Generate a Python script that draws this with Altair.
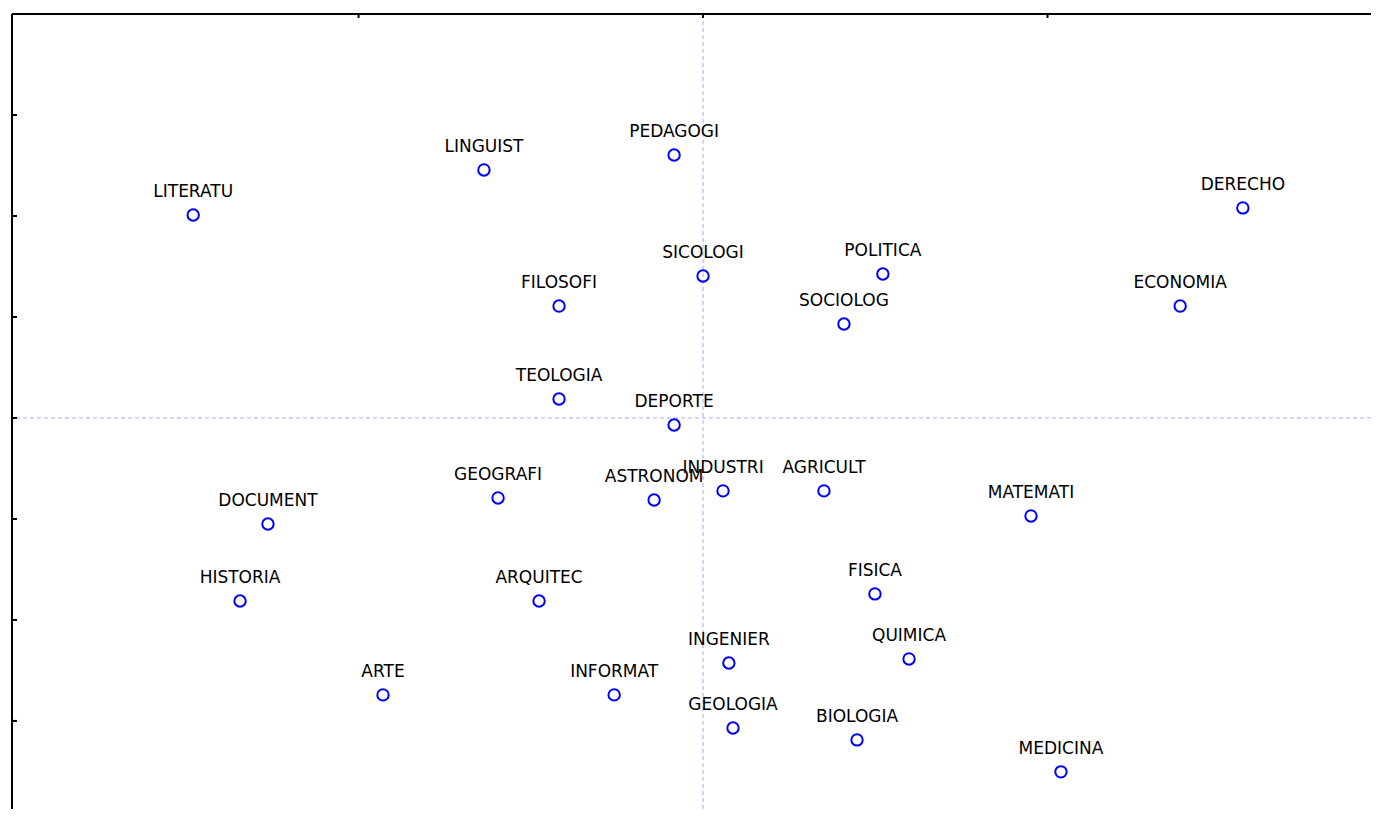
import altair as alt
import pandas as pd

labels = ["LITERATU", "LINGUIST", "PEDAGOGI", "DERECHO", "SICOLOGI", "POLITICA",
          "FILOSOFI", "SOCIOLOG", "ECONOMIA", "TEOLOGIA", "DEPORTE", "GEOGRAFI",
          "ASTRONOM", "INDUSTRI", "AGRICULT", "MATEMATI", "DOCUMENT", "HISTORIA",
          "ARQUITEC", "FISICA", "QUIMICA", "INGENIER", "ARTE", "INFORMAT",
          "GEOLOGIA", "BIOLOGIA", "MEDICINA"]
dim1 = [-1.480, -0.636, -0.084, 1.567, 0.000, 0.522,
        -0.418, 0.409, 1.385, -0.418, -0.084, -0.595,
        -0.142, 0.058, 0.351, 0.952, -1.263, -1.344,
        -0.476, 0.499, 0.598, 0.075, -0.929, -0.258,
        0.087, 0.447, 1.039]
dim2 = [1.005, 1.228, 1.302, 1.040, 0.703, 0.713,
        0.554, 0.465, 0.554, 0.094, -0.035, -0.396,
        -0.406, -0.361, -0.361, -0.485, -0.525, -0.906,
        -0.906, -0.871, -1.193, -1.213, -1.371, -1.371,
        -1.535, -1.594, -1.752]

x_ticks = [-1.0, 0.0, 1.0]
y_ticks = [-1.5, -1.0, -0.5, 0.0, 0.5, 1.0, 1.5]
x_domain = [-2.006, 1.939]
y_domain = [-1.936, 2.0]

W, H = 1359, 795

df = pd.DataFrame({"label": labels, "d1": dim1, "d2": dim2})
xt = pd.DataFrame({"v": x_ticks})
yt = pd.DataFrame({"v": y_ticks})
zero = pd.DataFrame({"v": [0.0]})

xs = alt.Scale(domain=x_domain, zero=False, nice=False)
ys = alt.Scale(domain=y_domain, zero=False, nice=False)

base = alt.Chart(df)

points = base.mark_point(shape="circle", filled=False, color="#0000ff",
                         size=130, strokeWidth=2, opacity=1).encode(
    x=alt.X("d1:Q", scale=xs, axis=None),
    y=alt.Y("d2:Q", scale=ys, axis=None),
)

text = base.mark_text(dy=-18, baseline="alphabetic", align="center",
                      font="DejaVu Sans", fontSize=17, color="#000000").encode(
    x=alt.X("d1:Q", scale=xs, axis=None),
    y=alt.Y("d2:Q", scale=ys, axis=None),
    text="label:N",
)

vline = alt.Chart(zero).mark_rule(color="#a8a8ff", strokeWidth=1, strokeDash=[4, 3]).encode(
    x=alt.X("v:Q", scale=xs, axis=None),
)
hline = alt.Chart(zero).mark_rule(color="#a8a8ff", strokeWidth=1, strokeDash=[4, 3]).encode(
    y=alt.Y("v:Q", scale=ys, axis=None),
)

left_line = alt.Chart(zero).mark_rule(color="black", strokeWidth=2).encode(
    x=alt.value(0), y=alt.value(0), y2=alt.value(H)
)
top_line = alt.Chart(zero).mark_rule(color="black", strokeWidth=2).encode(
    y=alt.value(0), x=alt.value(0), x2=alt.value(W)
)
top_ticks = alt.Chart(xt).mark_rule(color="black", strokeWidth=2).encode(
    x=alt.X("v:Q", scale=xs, axis=None), y=alt.value(0), y2=alt.value(4)
)
left_ticks = alt.Chart(yt).mark_rule(color="black", strokeWidth=2).encode(
    y=alt.Y("v:Q", scale=ys, axis=None), x=alt.value(0), x2=alt.value(5)
)

chart = alt.layer(vline, hline, points, text, left_line, top_line, top_ticks, left_ticks).properties(
    width=W, height=H,
    autosize=alt.AutoSizeParams(type="none"),
    padding={"left": 4, "top": 6, "right": 0, "bottom": 0},
    background="white",
).configure_view(stroke=None)

chart.save("out.html", embed_options={"renderer": "svg", "actions": False})
